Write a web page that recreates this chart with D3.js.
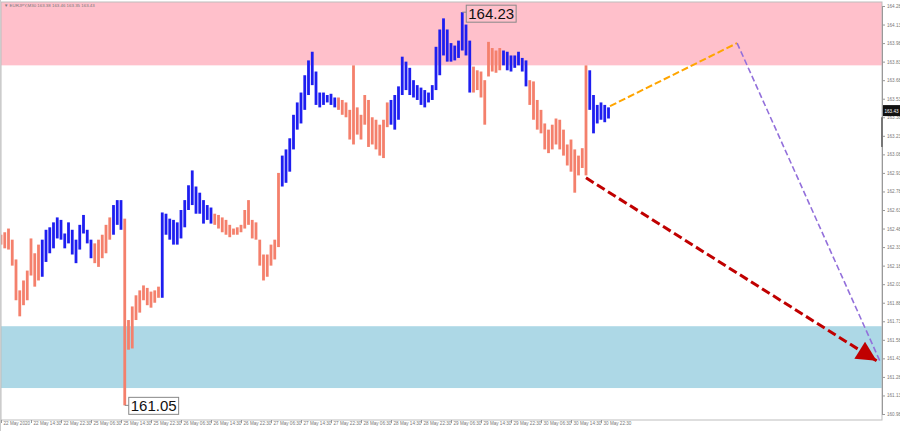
<!DOCTYPE html>
<html><head><meta charset="utf-8">
<script src="https://cdn.jsdelivr.net/npm/d3@7"></script>
<style>body{margin:0;background:#fff;} svg{display:block;font-family:"Liberation Sans",Arial,sans-serif;}</style>
</head><body><svg id="c" width="900" height="431"></svg>
<script>
// ---- data (hourly bars, EURJPY) ----
const highs = [162.43,162.45,162.48,162.39,162.23,161.98,162.06,162.14,162.40,162.28,
162.35,162.39,162.47,162.49,162.53,162.57,162.55,162.44,162.53,162.47,
162.39,162.51,162.59,162.47,162.39,162.36,162.39,162.43,162.51,162.57,
162.67,162.71,162.71,162.56,161.74,161.85,161.94,161.98,162.02,162.00,
161.97,161.98,162.01,162.61,162.60,162.56,162.55,162.53,162.63,162.71,
162.83,162.95,162.82,162.77,162.71,162.67,162.65,162.60,162.59,162.57,
162.55,162.51,162.48,162.49,162.51,162.63,162.71,162.55,162.53,162.39,
162.27,162.27,162.35,162.39,162.93,163.07,163.12,163.21,163.40,163.50,
163.58,163.72,163.84,163.91,163.75,163.58,163.58,163.56,163.57,163.54,
163.54,163.52,163.50,163.44,163.80,163.46,163.40,163.56,163.52,163.38,
163.36,163.32,163.36,163.50,163.52,163.56,163.63,163.87,163.83,163.78,
163.68,163.64,163.62,163.60,163.58,163.64,163.95,164.09,164.18,164.09,
163.98,163.96,164.00,164.23,164.13,164.00,163.79,163.76,163.75,163.68,
163.99,163.94,163.92,163.94,163.92,163.91,163.88,163.88,163.91,163.86,
163.84,163.68,163.67,163.52,163.44,163.33,163.28,163.32,163.37,163.36,
163.28,163.16,163.20,163.12,163.07,163.13,163.80,163.76,163.56,163.48,
163.50,163.48,163.46];
const lows = [162.35,162.32,162.31,162.18,161.90,161.77,161.86,161.90,162.10,162.01,
162.06,162.09,162.21,162.28,162.32,162.40,162.39,162.32,162.36,162.27,
162.20,162.31,162.44,162.36,162.24,162.20,162.17,162.24,162.28,162.39,
162.43,162.51,162.47,161.05,161.50,161.51,161.74,161.80,161.90,161.86,
161.84,161.88,161.92,161.92,162.43,162.39,162.35,162.35,162.40,162.49,
162.63,162.67,162.60,162.60,162.52,162.55,162.52,162.51,162.48,162.45,
162.43,162.41,162.43,162.43,162.45,162.48,162.51,162.40,162.39,162.18,
162.06,162.09,162.18,162.23,162.33,162.82,162.85,162.94,163.12,163.28,
163.33,163.44,163.56,163.64,163.48,163.46,163.48,163.50,163.48,163.46,
163.44,163.40,163.38,163.20,163.16,163.24,163.20,163.32,163.14,163.16,
163.12,163.07,163.05,163.30,163.32,163.28,163.36,163.56,163.60,163.56,
163.54,163.52,163.48,163.46,163.50,163.52,163.60,163.72,163.88,163.83,
163.83,163.84,163.86,163.92,163.88,163.58,163.58,163.60,163.54,163.32,
163.71,163.75,163.74,163.76,163.80,163.76,163.75,163.78,163.80,163.75,
163.63,163.48,163.36,163.28,163.25,163.12,163.09,163.12,163.16,163.12,
163.07,162.99,162.94,162.77,162.91,162.97,162.91,163.44,163.25,163.33,
163.36,163.34,163.37];
// wave segments: start bar index and direction
const segStart = [0,11,25,30,33,43,57,75,90,104,126,134,141,157];
const segDir   = ["down","up","down","up","down","up","down","up","down","up","down","up","down","up"];
// time axis labels (every 8 bars)
const timeLabels = ["22 May 2020","22 May 14:30","22 May 22:30","25 May 06:30","25 May 14:30","25 May 22:30",
"26 May 06:30","26 May 14:30","26 May 22:30","27 May 06:30","27 May 14:30","27 May 22:30","28 May 06:30",
"28 May 14:30","28 May 22:30","29 May 06:30","29 May 14:30","29 May 22:30","30 May 06:30","30 May 14:30","30 May 22:30"];
const priceTicks = [164.28,164.13,163.98,163.83,163.68,163.53,163.38,163.23,163.08,162.93,162.78,162.63,
162.48,162.33,162.18,162.03,161.88,161.73,161.58,161.43,161.28,161.13,160.98];
// zones
const resistanceZone = [163.80, 164.40];
const supportZone = [161.19, 161.69];
// forecast paths [barIndex, price]
const orangePath = [[162.4,163.47],[196.3,163.98]];
const purplePath = [[196.3,163.98],[234.5,161.40]];
const redPath = [[156,162.89],[233.5,161.41]];
const currentPrice = 163.43;
const header = "\u25BC EURJPY,M30  163.38 163.46 163.35 163.43";

// ---- drawing ----
const svg = d3.select("#c");
const W = 900, H = 431;
const plot = {l:1, t:2, r:882, b:420};
const x = d3.scaleLinear().domain([0,160]).range([1,601]);
const y = d3.scaleLinear().domain([160.98,164.28]).range([414,6]);

svg.append("rect").attr("width",W).attr("height",H).attr("fill","#fff");
svg.append("clipPath").attr("id","pc").append("rect")
  .attr("x",plot.l).attr("y",plot.t).attr("width",plot.r-plot.l).attr("height",plot.b-plot.t);
const g = svg.append("g").attr("clip-path","url(#pc)");

g.append("rect").attr("x",plot.l).attr("width",plot.r-plot.l)
  .attr("y",y(resistanceZone[1])).attr("height",y(resistanceZone[0])-y(resistanceZone[1]))
  .attr("fill","#ffc0cb");
g.append("rect").attr("x",plot.l).attr("width",plot.r-plot.l)
  .attr("y",y(supportZone[1])).attr("height",y(supportZone[0])-y(supportZone[1]))
  .attr("fill","#add8e6");

function dirOf(i){ let d = segDir[0]; segStart.forEach((s,k)=>{ if(i>=s) d = segDir[k]; }); return d; }
const bars = highs.map((h,i)=>({i, h, l: lows[i], d: dirOf(i)}));
g.selectAll("rect.bar").data(bars).enter().append("rect").attr("class","bar")
  .attr("x",d=>x(d.i)-1.4).attr("width",2.8)
  .attr("y",d=>y(d.h)).attr("height",d=>Math.max(1,y(d.l)-y(d.h)))
  .attr("fill",d=>d.d==="up"?"#1e1ef0":"#f4806c");

const line = d3.line().x(d=>x(d[0])).y(d=>y(d[1]));
svg.append("defs").append("marker").attr("id","arr").attr("viewBox","0 0 10 10")
  .attr("refX",10).attr("refY",5).attr("markerWidth",22).attr("markerHeight",20)
  .attr("markerUnits","userSpaceOnUse").attr("orient","auto")
  .append("path").attr("d","M0,0 L10,5 L0,10 Z").attr("fill","#c00000");
g.append("path").attr("d",line(redPath)).attr("stroke","#c00000").attr("stroke-width",3)
  .attr("stroke-dasharray","9,4").attr("fill","none").attr("marker-end","url(#arr)");
g.append("path").attr("d",line(orangePath)).attr("stroke","#ffa500").attr("stroke-width",2)
  .attr("stroke-dasharray","7,3").attr("fill","none");
g.append("path").attr("d",line(purplePath)).attr("stroke","#9370db").attr("stroke-width",1.6)
  .attr("stroke-dasharray","6,3").attr("fill","none");

// extreme labels
function priceBox(i, p, dy){
  const bx = x(i)+4, by = y(p)+dy;
  const t = svg.append("text").attr("x",bx+2).attr("y",by+13.5).attr("font-size",15)
    .attr("fill","#111").text(p.toFixed(2));
  const w = t.node().getComputedTextLength();
  svg.insert("rect","text").attr("x",bx).attr("y",by).attr("width",w+4).attr("height",17)
    .attr("fill","none").attr("stroke","#888").attr("stroke-width",1);
  svg.append("line").attr("x1",x(i)).attr("x2",bx).attr("y1",y(p)).attr("y2",y(p)).attr("stroke","#888");
}
priceBox(123, d3.max(highs), -7);
priceBox(33, d3.min(lows), -8);

// frame
svg.append("rect").attr("x",plot.l).attr("y",plot.t).attr("width",plot.r-plot.l).attr("height",plot.b-plot.t)
  .attr("fill","none").attr("stroke","#bdbdbd").attr("stroke-width",1);
svg.append("rect").attr("x",0).attr("y",0).attr("width",1).attr("height",H).attr("fill","#ccc");

// right axis
const ra = svg.append("g").attr("transform",`translate(${plot.r},0)`)
  .call(d3.axisRight(y).tickValues(priceTicks).tickSize(3).tickPadding(2).tickFormat(d=>d.toFixed(2)));
ra.select(".domain").attr("stroke","#999");
ra.selectAll("line").attr("stroke","#999");
ra.selectAll("text").attr("font-size",4.6).attr("fill","#777").attr("font-family","Liberation Sans, Arial");
svg.append("rect").attr("x",plot.r-1).attr("y",y(163.38)).attr("width",2).attr("height",y(163.14)-y(163.38)).attr("fill","#777");
svg.append("rect").attr("x",plot.r+1).attr("y",y(currentPrice)-6).attr("width",17).attr("height",11).attr("fill","#111");
svg.append("text").attr("x",plot.r+2.5).attr("y",y(currentPrice)+1.5).attr("font-size",4.6).attr("fill","#fff").text(currentPrice.toFixed(2));

// bottom axis
const tv = d3.range(0,161,8);
const ba = svg.append("g").attr("transform",`translate(0,${plot.b})`)
  .call(d3.axisBottom(x).tickValues(tv).tickSize(3).tickFormat((d,k)=>timeLabels[k]));
ba.select(".domain").remove();
ba.selectAll("line").attr("stroke","#999");
ba.selectAll("text").attr("font-size",4.6).attr("fill","#777").attr("text-anchor","start")
  .attr("dx",2).attr("y",2).attr("dy","0.71em").attr("font-family","Liberation Sans, Arial");

svg.append("text").attr("x",4).attr("y",7).attr("font-size",4.4).attr("fill","#777").text(header);
</script></body></html>
